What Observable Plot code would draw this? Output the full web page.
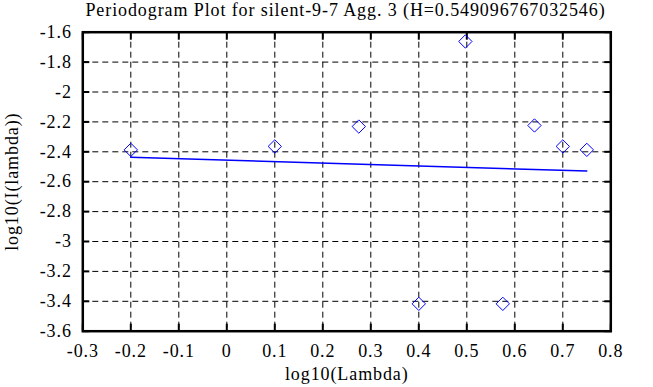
<!DOCTYPE html>
<html>
<head>
<meta charset="utf-8">
<script src="https://cdn.jsdelivr.net/npm/d3@7"></script>
<script src="https://cdn.jsdelivr.net/npm/@observablehq/plot@0.6"></script>
<style>
  html, body { margin: 0; padding: 0; background: #fff; }
  #title { width: 653px; height: 18px; line-height: 20px; overflow: visible; text-align: center; font-family: "Liberation Serif", "Times New Roman", serif; font-size: 18px; letter-spacing: 0.9px; color: #000; white-space: nowrap; padding-left: 38px; box-sizing: border-box; }
  svg { display: block; }
  svg, svg text { font-family: "Liberation Serif", "Times New Roman", serif !important; }
</style>
</head>
<body>
<div id="title"></div>
<div id="chart"></div>
<script>
const titleText = "Periodogram Plot for silent-9-7 Agg. 3 (H=0.549096767032546)";
const xLabel = "log10(Lambda)";
const yLabel = "log10(I(lambda))";
const logLambda = [-0.2, 0.1, 0.275, 0.4, 0.497, 0.575, 0.641, 0.7, 0.75];
const logI = [-2.387, -2.364, -2.231, -3.417, -1.662, -3.417, -2.224, -2.364, -2.387];
const fitX = [-0.2, 0.75];
const fitY = [-2.436, -2.529];
const xTicks = [-0.3, -0.2, -0.1, 0, 0.1, 0.2, 0.3, 0.4, 0.5, 0.6, 0.7, 0.8];
const yTicks = [-1.6, -1.8, -2, -2.2, -2.4, -2.6, -2.8, -3, -3.2, -3.4, -3.6];

document.getElementById("title").textContent = titleText;

const points = logLambda.map((x, i) => ({x, y: logI[i]}));
const fit = fitX.map((x, i) => ({x, y: fitY[i]}));
const fmt = d => String(d);
const font = "Liberation Serif, Times New Roman, serif";

const chart = Plot.plot({
  width: 653,
  height: 369,
  marginLeft: 82.3,
  marginRight: 42.7,
  marginTop: 13.7,
  marginBottom: 56.3,
  style: {fontFamily: font, fontSize: "18px", letterSpacing: "0.9px", color: "#000", background: "#fff"},
  x: {domain: [-0.3, 0.8]},
  y: {domain: [-3.6, -1.6]},
  marks: [
    Plot.gridX(xTicks, {stroke: "#000", strokeOpacity: 1, strokeDasharray: "6,4", strokeWidth: 1}),
    Plot.gridY(yTicks, {stroke: "#000", strokeOpacity: 1, strokeDasharray: "6,4", strokeWidth: 1}),
    Plot.axisX(xTicks, {anchor: "bottom", tickSize: 0, tickPadding: 13, tickFormat: fmt, label: xLabel, labelAnchor: "center", labelArrow: "none", labelOffset: 49, fontSize: 18, fontFamily: font}),
    Plot.axisX(xTicks, {anchor: "bottom", tickSize: -7, strokeWidth: 2, text: null, label: null}),
    Plot.axisX(xTicks, {anchor: "top", tickSize: -7, strokeWidth: 2, text: null, label: null}),
    Plot.axisY(yTicks, {anchor: "left", tickSize: 0, tickPadding: 11, tickFormat: fmt, label: yLabel, labelAnchor: "center", labelArrow: "none", labelOffset: 78, fontSize: 18, fontFamily: font}),
    Plot.axisY(yTicks, {anchor: "left", tickSize: -7, strokeWidth: 2, text: null, label: null}),
    Plot.axisY(yTicks, {anchor: "right", tickSize: -7, strokeWidth: 2, text: null, label: null}),
    Plot.frame({stroke: "#000", strokeWidth: 2.5}),
    Plot.line(fit, {x: "x", y: "y", stroke: "#0000ff", strokeWidth: 1.5}),
    Plot.dot(points, {x: "x", y: "y", symbol: "diamond2", r: 6, stroke: "#0000ff", strokeWidth: 1, fill: "none"})
  ]
});
document.getElementById("chart").appendChild(chart);
</script>
</body>
</html>
